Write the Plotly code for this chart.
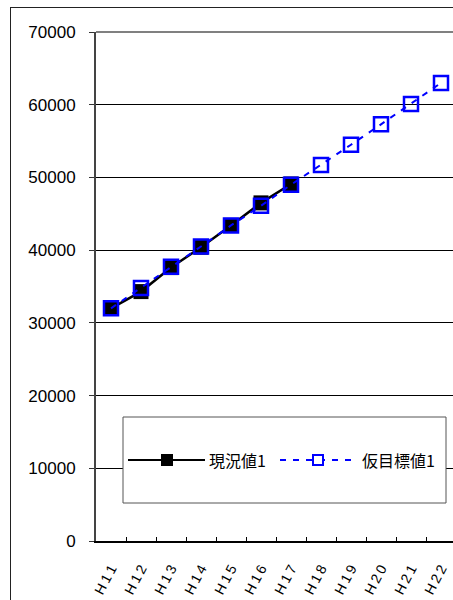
import plotly.graph_objects as go

categories = ["H11", "H12", "H13", "H14", "H15", "H16", "H17", "H18", "H19", "H20", "H21", "H22"]
current_values = [32000, 34300, 37600, 40400, 43400, 46500, 49100]
target_values = [32000, 34800, 37700, 40500, 43400, 46100, 49000, 51700, 54500, 57300, 60100, 63000]
y_ticks = [0, 10000, 20000, 30000, 40000, 50000, 60000, 70000]
series_names = ["現況値1", "仮目標値1"]

W, H = 453, 600
L, T, B = 96, 32, 59
PW = W - L
PH = H - T - B


def px_x(px):
    return (px - L) / PW


def px_y(py):
    return (H - B - py) / PH


fig = go.Figure()
fig.add_trace(go.Scatter(
    x=categories[:len(current_values)], y=current_values, name=series_names[0],
    mode="lines+markers",
    line=dict(color="black", width=2.5),
    marker=dict(symbol="square", size=15, color="black"),
    showlegend=False,
))
fig.add_trace(go.Scatter(
    x=categories, y=target_values, name=series_names[1],
    mode="lines+markers",
    line=dict(color="#0000FF", width=2, dash="6px,7px"),
    marker=dict(symbol="square-open", size=14, color="#0000FF", line=dict(width=2.5, color="#0000FF")),
    showlegend=False,
))

shapes = []
# outer chart border (left and top)
shapes.append(dict(type="line", xref="paper", yref="paper", x0=px_x(10.5), x1=px_x(10.5), y0=px_y(7), y1=px_y(620),
                   line=dict(color="#222", width=1)))
shapes.append(dict(type="line", xref="paper", yref="paper", x0=px_x(10.5), x1=px_x(470), y0=px_y(7.5), y1=px_y(7.5),
                   line=dict(color="#222", width=1)))
# top plot border
shapes.append(dict(type="line", xref="paper", yref="paper", x0=0, x1=1.05, y0=1, y1=1,
                   line=dict(color="#808080", width=2)))
# legend box
shapes.append(dict(type="rect", xref="paper", yref="paper", layer="above",
                   x0=px_x(123), x1=px_x(446), y0=px_y(503), y1=px_y(417),
                   fillcolor="white", line=dict(color="#555", width=1)))
ly = px_y(460)
shapes.append(dict(type="line", xref="paper", yref="paper", layer="above",
                   x0=px_x(128), x1=px_x(205), y0=ly, y1=ly, line=dict(color="black", width=2)))
shapes.append(dict(type="rect", xref="paper", yref="paper", layer="above",
                   xsizemode="pixel", ysizemode="pixel", xanchor=px_x(167), yanchor=ly,
                   x0=-6, x1=6, y0=-6, y1=6, fillcolor="black", line=dict(color="black", width=0)))
shapes.append(dict(type="line", xref="paper", yref="paper", layer="above",
                   x0=px_x(280), x1=px_x(358), y0=ly, y1=ly, line=dict(color="#0000FF", width=2, dash="6px,7px")))
shapes.append(dict(type="rect", xref="paper", yref="paper", layer="above",
                   xsizemode="pixel", ysizemode="pixel", xanchor=px_x(318), yanchor=ly,
                   x0=-5, x1=5, y0=-5, y1=5, fillcolor="white", line=dict(color="#0000FF", width=2)))

annotations = [
    dict(xref="paper", yref="paper", x=px_x(207), y=ly, text=series_names[0], showarrow=False,
         xanchor="left", yanchor="middle", font=dict(family="Noto Sans CJK JP", size=16, color="black")),
    dict(xref="paper", yref="paper", x=px_x(360), y=ly, text=series_names[1], showarrow=False,
         xanchor="left", yanchor="middle", font=dict(family="Noto Sans CJK JP", size=16, color="black")),
]

fig.update_layout(
    width=W, height=H,
    margin=dict(l=L, r=0, t=T, b=B, pad=0),
    paper_bgcolor="white", plot_bgcolor="white",
    shapes=shapes, annotations=annotations,
    xaxis=dict(
        type="category", categoryorder="array", categoryarray=categories,
        range=[-0.5, -0.5 + PW / 30.0],
        tickmode="array", tickvals=categories, ticktext=["\u2009".join(c) for c in categories],
        tickson="boundaries", ticks="inside", ticklen=4, tickcolor="black", tickwidth=1,
        tickangle=-62, tickfont=dict(family="Liberation Sans", size=14, color="black"),
        showline=True, linecolor="black", linewidth=2, showgrid=False,
        ticklabelstandoff=12,
    ),
    yaxis=dict(
        range=[0, 70000], tickmode="array", tickvals=y_ticks, ticktext=[str(v) for v in y_ticks],
        ticks="outside", ticklen=5, tickcolor="#333", tickwidth=1,
        tickfont=dict(family="Liberation Sans", size=17, color="black"),
        showline=True, linecolor="#444", linewidth=2,
        showgrid=True, gridcolor="black", gridwidth=1, zeroline=False,
        ticklabelstandoff=10,
    ),
)

fig.write_html("out.html")
